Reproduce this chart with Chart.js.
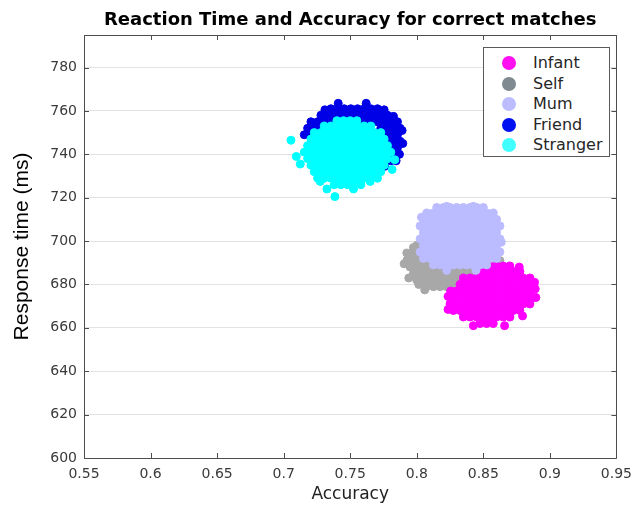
<!DOCTYPE html>
<html>
<head>
<meta charset="utf-8">
<script src="https://cdn.jsdelivr.net/npm/chart.js@4/dist/chart.umd.min.js"></script>
<style>
html,body{margin:0;padding:0;background:#fff;}
#wrap{position:relative;width:640px;height:506px;}
#legend{position:absolute;left:483px;top:47px;width:127px;height:110px;border:1px solid #5a5a5a;background:#fff;box-sizing:border-box;font-family:'DejaVu Sans',sans-serif;font-size:16px;color:#262626;}
.item{position:absolute;left:0;width:100%;height:0;}
.dot{position:absolute;left:18px;top:-7px;width:14px;height:14px;border-radius:50%;}
.lbl{position:absolute;left:49px;top:-10px;line-height:20px;white-space:nowrap;}
</style>
</head>
<body>
<div id="wrap">
<canvas id="c" width="640" height="506"></canvas>
<div id="legend"></div>
</div>
<script>
// ---- data ----
const seriesNames = ['Infant', 'Self', 'Mum', 'Friend', 'Stranger'];
const xTicks = [0.55, 0.6, 0.65, 0.7, 0.75, 0.8, 0.85, 0.9, 0.95];
const yTicks = [600, 620, 640, 660, 680, 700, 720, 740, 760, 780];

// each row: [response time, [accuracy values...]]
const infantRows = [
  [662, [0.8475,0.8525,0.8575]],
  [665, [0.835,0.84,0.845,0.85,0.855,0.86,0.865,0.87]],
  [668, [0.8275,0.8325,0.8375,0.8425,0.8475,0.8525,0.8575,0.8625,0.8675,0.8725,0.8775]],
  [671, [0.825,0.83,0.835,0.84,0.845,0.85,0.855,0.86,0.865,0.87,0.875,0.88,0.885]],
  [674, [0.8275,0.8325,0.8375,0.8425,0.8475,0.8525,0.8575,0.8625,0.8675,0.8725,0.8775,0.8825,0.8875]],
  [677, [0.83,0.835,0.84,0.845,0.85,0.855,0.86,0.865,0.87,0.875,0.88,0.885]],
  [680, [0.8325,0.8375,0.8425,0.8475,0.8525,0.8575,0.8625,0.8675,0.8725,0.8775,0.8825,0.8875]],
  [683, [0.835,0.84,0.845,0.85,0.855,0.86,0.865,0.87,0.875,0.88,0.885]],
  [686, [0.8475,0.8525,0.8575,0.8625,0.8675,0.8725,0.8775]],
  [688.5, [0.855,0.86,0.865,0.87]],
  [674.5, [0.8235]], [677, [0.8255]], [678, [0.889]], [674, [0.8895]], [665.5, [0.8795]],
  [661, [0.8425,0.866]], [681, [0.8885]], [688, [0.877]], [668.5, [0.8235]]
];
const selfRows = [
  [679, [0.8075,0.8125,0.8175,0.8225,0.8275,0.8325]],
  [682, [0.8,0.805,0.81,0.815,0.82,0.825,0.83,0.835,0.84,0.845]],
  [685, [0.7975,0.8025,0.8075,0.8125,0.8175,0.8225,0.8275,0.8325,0.8375,0.8425,0.8475,0.8525]],
  [688, [0.795,0.8,0.805,0.81,0.815,0.82,0.825,0.83,0.835,0.84,0.845,0.85,0.855,0.86]],
  [691, [0.7925,0.7975,0.8025,0.8075,0.8575,0.8625]],
  [694, [0.795,0.8]],
  [697, [0.7975]],
  [689.5, [0.7905]], [694.5, [0.7925]], [677.5, [0.806]], [683, [0.794]], [698, [0.8]], [680, [0.8015]]
];
const mumRows = [
  [689, [0.8125,0.8175,0.8225,0.8275,0.8325,0.8375,0.8425,0.8475,0.8525]],
  [692, [0.805,0.81,0.815,0.82,0.825,0.83,0.835,0.84,0.845,0.85,0.855,0.86]],
  [695, [0.8025,0.8075,0.8125,0.8175,0.8225,0.8275,0.8325,0.8375,0.8425,0.8475,0.8525,0.8575,0.8625]],
  [698, [0.805,0.81,0.815,0.82,0.825,0.83,0.835,0.84,0.845,0.85,0.855,0.86]],
  [701, [0.8025,0.8075,0.8125,0.8175,0.8225,0.8275,0.8325,0.8375,0.8425,0.8475,0.8525,0.8575,0.8625]],
  [704, [0.805,0.81,0.815,0.82,0.825,0.83,0.835,0.84,0.845,0.85,0.855,0.86]],
  [707, [0.8025,0.8075,0.8125,0.8175,0.8225,0.8275,0.8325,0.8375,0.8425,0.8475,0.8525,0.8575,0.8625]],
  [710, [0.805,0.81,0.815,0.82,0.825,0.83,0.835,0.84,0.845,0.85,0.855,0.86]],
  [713, [0.8075,0.8125,0.8175,0.8225,0.8275,0.8325,0.8375,0.8425,0.8475,0.8525,0.8575]],
  [715.5, [0.815,0.82,0.825,0.83,0.835,0.84,0.845,0.85]],
  [716, [0.8225,0.8425]], [711, [0.8035]], [686.5, [0.8225,0.8445]], [699.5, [0.8635]]
];
const friendRows = [
  [761, [0.7355,0.7405,0.7455,0.7505,0.7555,0.7605,0.7655,0.7705]],
  [758, [0.728,0.733,0.738,0.743,0.748,0.753,0.758,0.763,0.768,0.773,0.778]],
  [755, [0.7205,0.7255,0.7305,0.7355,0.7405,0.7455,0.7505,0.7555,0.7605,0.7655,0.7705,0.7755,0.7805,0.7855]],
  [752, [0.718,0.723,0.728,0.733,0.773,0.778,0.783,0.7875]],
  [749, [0.7155,0.7205,0.7755,0.7805,0.7855]],
  [746, [0.778,0.783,0.7875]],
  [743, [0.7805,0.7855]],
  [740, [0.778,0.783,0.787]],
  [737, [0.7755,0.7805,0.7845]],
  [734.5, [0.776]],
  [763.5, [0.741,0.762]], [760.5, [0.731,0.7755]], [757.5, [0.7825]], [751, [0.789]], [745, [0.7895]]
];
const strangerRows = [
  [726, [0.738,0.743,0.748,0.753,0.758]],
  [729, [0.7255,0.7305,0.7355,0.7405,0.7455,0.7505,0.7555,0.7605,0.7655,0.7705]],
  [732, [0.723,0.728,0.733,0.738,0.743,0.748,0.753,0.758,0.763,0.768,0.773]],
  [735, [0.7205,0.7255,0.7305,0.7355,0.7405,0.7455,0.7505,0.7555,0.7605,0.7655,0.7705,0.7755]],
  [738, [0.718,0.723,0.728,0.733,0.738,0.743,0.748,0.753,0.758,0.763,0.768,0.773,0.778]],
  [741, [0.7155,0.7205,0.7255,0.7305,0.7355,0.7405,0.7455,0.7505,0.7555,0.7605,0.7655,0.7705,0.7755,0.7805]],
  [744, [0.718,0.723,0.728,0.733,0.738,0.743,0.748,0.753,0.758,0.763,0.768,0.773,0.778]],
  [747, [0.7205,0.7255,0.7305,0.7355,0.7405,0.7455,0.7505,0.7555,0.7605,0.7655,0.7705,0.7755]],
  [750, [0.723,0.728,0.733,0.738,0.743,0.748,0.753,0.758,0.763,0.768,0.773]],
  [753, [0.7305,0.7355,0.7405,0.7455,0.7505,0.7555,0.7605,0.7655]],
  [755.5, [0.74,0.745,0.75,0.755]],
  [746.5, [0.7055]], [720.5, [0.7385]], [739, [0.7095]], [735.5, [0.7125]], [733, [0.7815]],
  [737.5, [0.7835]], [724, [0.7325,0.7525]], [727.5, [0.7275,0.765]]
];

// ---- styles ----
const cloudColors = ['#ff00ff', '#a8a8a8', '#bbbbff', '#0000e6', '#00ffff'];
const legendColors = ['#ff10f0', '#7f8a90', '#bcbcff', '#0010f0', '#40ffff'];
const drawOrder = [3, 4, 2, 1, 0]; // lower = drawn on top

const toPts = rows => rows.flatMap(([y, xs]) => xs.map(x => ({x: x, y: y})));
const allRows = [infantRows, selfRows, mumRows, friendRows, strangerRows];

const datasets = allRows.map((rows, i) => ({
  label: seriesNames[i],
  data: toPts(rows),
  showLine: false,
  pointRadius: 4,
  pointBorderWidth: 1,
  pointBackgroundColor: cloudColors[i],
  pointBorderColor: cloudColors[i],
  backgroundColor: cloudColors[i],
  borderColor: cloudColors[i],
  order: drawOrder[i]
}));

const FONT = "'DejaVu Sans', sans-serif";

const framePlugin = {
  id: 'frame',
  afterDraw(chart) {
    const ctx = chart.ctx;
    const a = chart.chartArea;
    const xs = chart.scales.x, ys = chart.scales.y;
    ctx.save();
    ctx.strokeStyle = '#4d4d4d';
    ctx.lineWidth = 1;
    ctx.beginPath();
    ctx.rect(Math.round(a.left) + 0.5, Math.round(a.top) + 0.5,
             Math.round(a.right - a.left), Math.round(a.bottom - a.top));
    ctx.stroke();
    ctx.beginPath();
    const tl = 5;
    xTicks.forEach(v => {
      const px = Math.round(xs.getPixelForValue(v)) + 0.5;
      ctx.moveTo(px, a.bottom); ctx.lineTo(px, a.bottom - tl);
      ctx.moveTo(px, a.top); ctx.lineTo(px, a.top + tl);
    });
    yTicks.forEach(v => {
      const py = Math.round(ys.getPixelForValue(v)) + 0.5;
      ctx.moveTo(a.left, py); ctx.lineTo(a.left + tl, py);
      ctx.moveTo(a.right, py); ctx.lineTo(a.right - tl, py);
    });
    ctx.stroke();
    // title
    ctx.fillStyle = '#000';
    ctx.font = "bold 18px " + FONT;
    ctx.textAlign = 'center';
    ctx.textBaseline = 'middle';
    ctx.fillText('Reaction Time and Accuracy for correct matches', (a.left + a.right) / 2, 20);
    ctx.restore();
  }
};

new Chart(document.getElementById('c'), {
  type: 'scatter',
  data: { datasets: datasets },
  options: {
    responsive: false,
    animation: false,
    events: [],
    layout: { padding: { top: 35, right: 19, left: 0, bottom: 0 } },
    plugins: { legend: { display: false }, tooltip: { enabled: false }, title: { display: false } },
    scales: {
      x: {
        type: 'linear', min: 0.55, max: 0.95,
        afterBuildTicks: s => { s.ticks = xTicks.map(v => ({ value: v })); },
        afterFit: s => { s.height = 48; },
        grid: { display: false, drawTicks: false },
        border: { display: false },
        ticks: { font: { family: FONT, size: 14 }, color: '#3a3a3a', padding: 8, maxRotation: 0, autoSkip: false,
                 callback: v => String(+Number(v).toFixed(2)) },
        title: { display: true, text: 'Accuracy', font: { family: FONT, size: 17 }, color: '#222', padding: { top: 0, bottom: 1 } }
      },
      y: {
        type: 'linear', min: 600, max: 795,
        afterBuildTicks: s => { s.ticks = yTicks.map(v => ({ value: v })); },
        afterFit: s => { s.width = 84; },
        grid: { color: '#e2e2e2', drawTicks: false },
        border: { display: false },
        ticks: { font: { family: FONT, size: 14 }, color: '#3a3a3a', padding: 7, autoSkip: false,
                 callback: v => String(v) },
        title: { display: true, text: 'Response time (ms)', font: { family: "'Liberation Sans', Arial, sans-serif", size: 21 }, color: '#000',
                 padding: { top: 10, bottom: 0 } }
      }
    }
  },
  plugins: [framePlugin]
});

// legend (HTML, from the series arrays)
const leg = document.getElementById('legend');
const rowY = [15, 35.5, 56, 76.5, 97];
seriesNames.forEach((name, i) => {
  const it = document.createElement('div');
  it.className = 'item';
  it.style.top = rowY[i] + 'px';
  const d = document.createElement('div');
  d.className = 'dot';
  d.style.background = legendColors[i];
  const l = document.createElement('div');
  l.className = 'lbl';
  l.textContent = name;
  it.appendChild(d); it.appendChild(l);
  leg.appendChild(it);
});
</script>
</body>
</html>
